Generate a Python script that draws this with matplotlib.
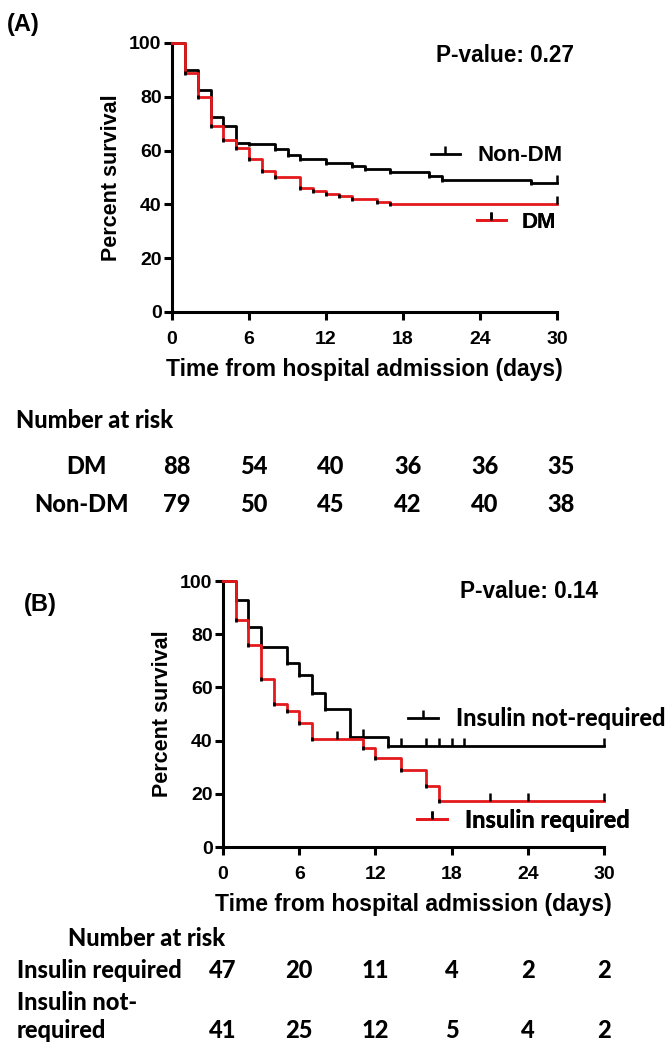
import matplotlib
matplotlib.use('Agg')
import matplotlib.pyplot as plt
from matplotlib.lines import Line2D
from matplotlib import transforms

W, H = 672, 1042

# Panel A: DM vs Non-DM, step values
dm_t = [0, 1, 2, 3, 4, 5, 6, 7, 8, 10, 11, 12, 13, 14, 16, 17]
dm_s = [100, 89, 80, 69, 64, 61, 57, 52.5, 50, 46, 45, 44, 43, 42, 41, 40]
dm_cens_t = [30]
dm_cens_s = [40]
nondm_t = [0, 1, 2, 3, 4, 5, 6, 8, 9, 10, 12, 14, 15, 17, 20, 21, 28]
nondm_s = [100, 90, 82.5, 72.5, 69, 63, 62.3, 60.5, 58.5, 57, 55.5, 54.4,
           53.2, 52, 50.6, 49.2, 48]
nondm_cens_t = [30]
nondm_cens_s = [48]

# Panel B: insulin required vs not required
ins_t = [0, 1, 2, 3, 4, 5, 6, 7, 11, 12, 14, 16, 17]
ins_s = [100, 85.3, 76, 63, 53.6, 51, 46.5, 40.5, 37.3, 33.6, 29, 23, 17.2]
ins_cens_t = [9, 21, 24, 30]
ins_cens_s = [40.5, 17.2, 17.2, 17.2]
noins_t = [0, 1, 2, 3, 5, 6, 7, 8, 10, 13]
noins_s = [100, 93, 82.6, 75.3, 69, 64.7, 58, 51.8, 41.4, 37.9]
noins_cens_t = [11, 14, 16, 17, 18, 19, 30]
noins_cens_s = [41.4, 37.9, 37.9, 37.9, 37.9, 37.9, 37.9]

# number at risk
risk_days = [0, 6, 12, 18, 24, 30]
risk_dm = [88, 54, 40, 36, 36, 35]
risk_nondm = [79, 50, 45, 42, 40, 38]
risk_ins = [47, 20, 11, 4, 2, 2]
risk_noins = [41, 25, 12, 5, 4, 2]

xticks = [0, 6, 12, 18, 24, 30]
yticks = [0, 20, 40, 60, 80, 100]

ARIAL = 'Liberation Sans'
CALIBRI = 'Lato'
CW = 900  # heavy weight for the Calibri-like table text
RED = '#e3191c'


def fx(px):
    return px / W


def fy(py):
    return 1 - py / H


def km(ax, t, s, ct, cs, color, z):
    ax.step(t + [30], s + [s[-1]], where='post', color=color, lw=2.0,
            zorder=z, clip_on=False)
    ax.plot(t[1:], s[1:], ls='none', marker='|', ms=3.5, mew=2.0,
            color='black', zorder=z + 0.5, clip_on=False)
    ax.plot(ct, cs, ls='none', marker=2, ms=6, mew=1.8, color='black',
            zorder=z + 0.5, clip_on=False)


def style_axes(ax):
    ax.set_xlim(0, 30)
    ax.set_ylim(0, 100)
    ax.set_xticks(xticks)
    ax.set_yticks(yticks)
    for side in ('top', 'right'):
        ax.spines[side].set_visible(False)
    for side in ('left', 'bottom'):
        ax.spines[side].set_linewidth(2.2)
    ax.tick_params(axis='both', direction='out', length=6, width=2.2,
                   labelsize=14)
    ax.tick_params(axis='y', pad=1.5)
    ax.tick_params(axis='x', pad=8)
    for lab in ax.get_xticklabels() + ax.get_yticklabels():
        lab.set_fontweight('bold')
        lab.set_family(ARIAL)
    ax.set_xlabel('Time from hospital admission (days)', fontsize=16.5,
                  fontweight='bold', family=ARIAL, labelpad=7)
    ax.set_ylabel('Percent survival', fontsize=15.5, fontweight='bold',
                  family=ARIAL, labelpad=5)


def key(ax, label, color, x, y, font, size, weight, hl, pad):
    h = Line2D([], [], color=color, lw=2.0, marker=2, ms=6, mew=1.8,
               mec='black')
    lg = ax.legend([h], [label], loc='center left', numpoints=1,
                   bbox_to_anchor=(fx(x), fy(y)),
                   bbox_transform=ax.figure.transFigure, frameon=False,
                   borderpad=0, borderaxespad=0, handlelength=hl,
                   handletextpad=pad,
                   prop={'family': font, 'weight': weight, 'size': size})
    ax.add_artist(lg)


def tab(x, y, s, ha='left', transform=None):
    kw = {} if transform is None else {'transform': transform}
    fig.text(x, y, s, ha=ha, va='center', fontsize=17, fontweight=CW,
             family=CALIBRI, **kw)


fig = plt.figure(figsize=(W / 100, H / 100), dpi=100)

# ---------------- panel A
axA = fig.add_axes([fx(172), fy(312), fx(557 - 172), (312 - 43) / H])
km(axA, nondm_t, nondm_s, nondm_cens_t, nondm_cens_s, 'black', 2)
km(axA, dm_t, dm_s, dm_cens_t, dm_cens_s, RED, 3)
style_axes(axA)
key(axA, 'Non-DM', 'black', 431, 156, ARIAL, 16, 'bold', 1.3, 0.8)
key(axA, 'DM', RED, 477, 222, ARIAL, 16, 'bold', 1.3, 0.72)
fig.text(fx(505), fy(55), 'P-value: 0.27', ha='center', va='center',
         fontsize=16.3, fontweight='bold', family=ARIAL)
fig.text(fx(7), fy(25), '(A)', ha='left', va='center', fontsize=17,
         fontweight='bold', family=ARIAL)

trA = transforms.blended_transform_factory(axA.transData, fig.transFigure)
tab(fx(16), fy(421), 'Number at risk')
tab(fx(86), fy(467), 'DM', ha='center')
tab(fx(82), fy(505), 'Non-DM', ha='center')
for d, a, b in zip(risk_days, risk_dm, risk_nondm):
    tab(d + 0.35, fy(467), str(a), ha='center', transform=trA)
    tab(d + 0.35, fy(505), str(b), ha='center', transform=trA)

# ---------------- panel B
axB = fig.add_axes([fx(223), fy(847), fx(604 - 223), (847 - 581) / H])
km(axB, noins_t, noins_s, noins_cens_t, noins_cens_s, 'black', 2)
km(axB, ins_t, ins_s, ins_cens_t, ins_cens_s, RED, 3)
style_axes(axB)
key(axB, 'Insulin not-required', 'black', 408, 719, CALIBRI, 17, CW,
    1.27, 0.76)
key(axB, 'Insulin required', RED, 417, 820, CALIBRI, 17, CW, 1.27, 0.76)
fig.text(fx(529), fy(592), 'P-value: 0.14', ha='center', va='center',
         fontsize=16.3, fontweight='bold', family=ARIAL)
fig.text(fx(24), fy(605), '(B)', ha='left', va='center', fontsize=17,
         fontweight='bold', family=ARIAL)

trB = transforms.blended_transform_factory(axB.transData, fig.transFigure)
tab(fx(68), fy(938), 'Number at risk')
tab(fx(17), fy(970), 'Insulin required')
tab(fx(17), fy(1002), 'Insulin not-')
tab(fx(17), fy(1030), 'required')
for d, a, b in zip(risk_days, risk_ins, risk_noins):
    tab(d, fy(970), str(a), ha='center', transform=trB)
    tab(d, fy(1030), str(b), ha='center', transform=trB)

fig.savefig('out.png', dpi=100)
